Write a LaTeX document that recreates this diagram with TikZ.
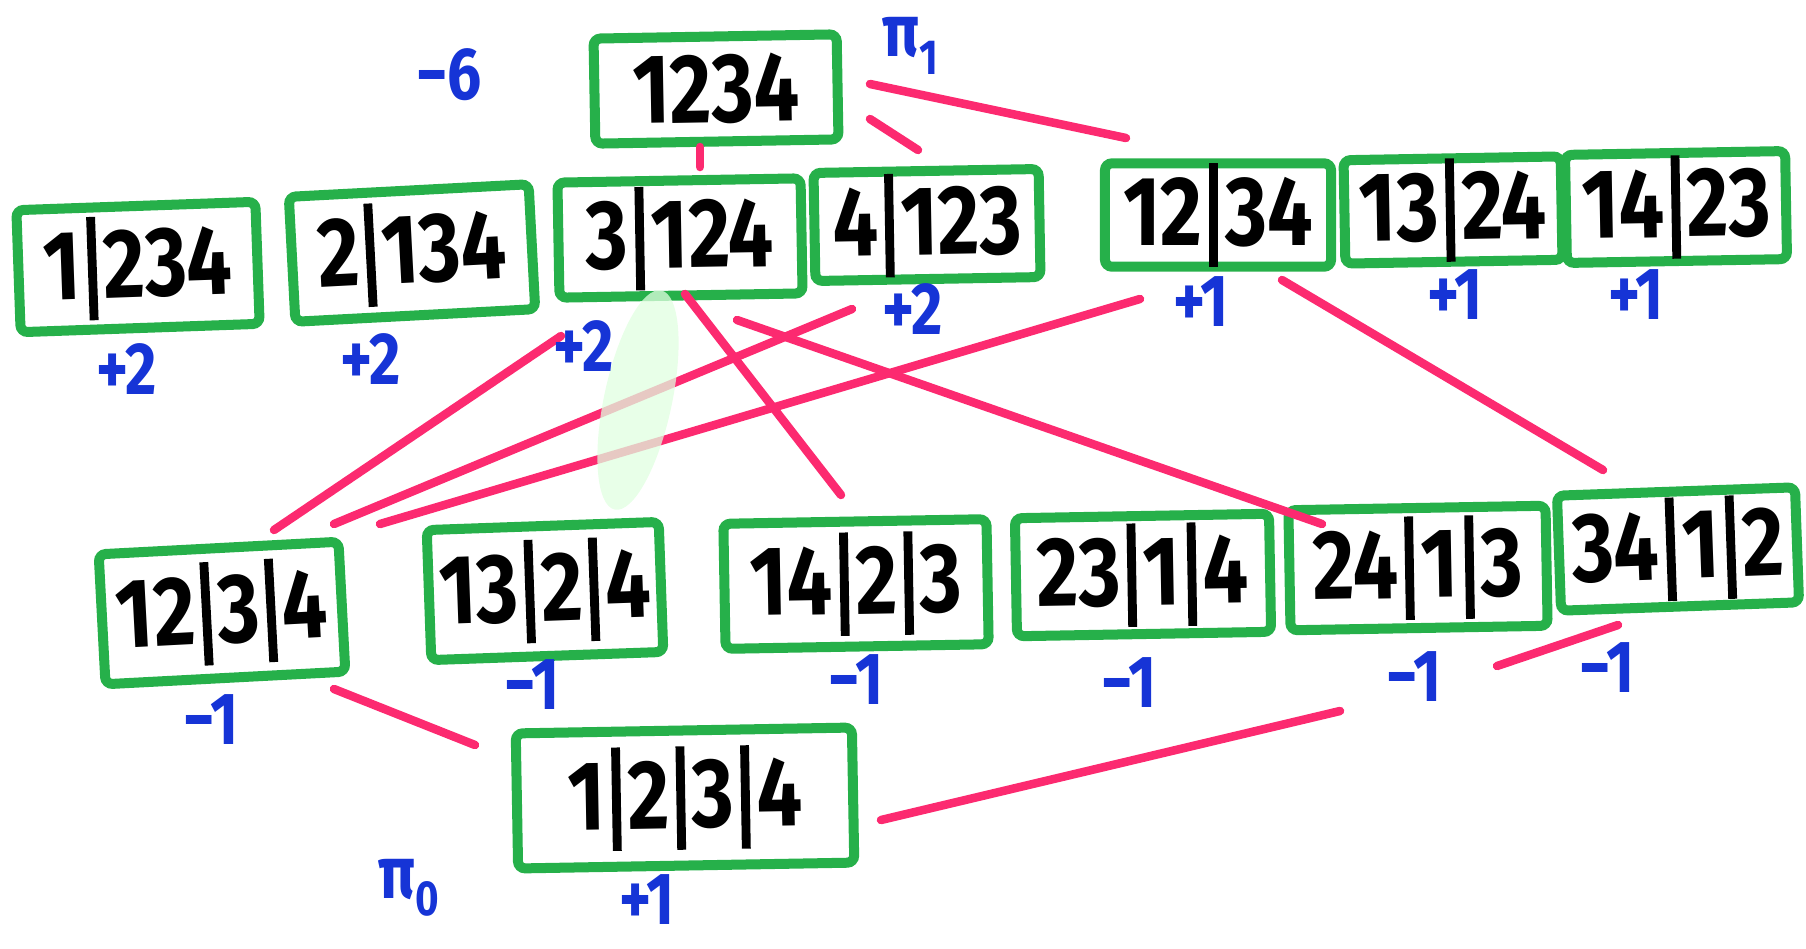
\documentclass[tikz,border=0pt]{standalone}
\usepackage{fontspec}
\usepackage{xcolor}
\usepackage{tikz}
\usetikzlibrary{positioning}
\newfontfamily\hand[FakeStretch=0.82]{Fira Sans}
\definecolor{penGreen}{RGB}{38,176,74}
\definecolor{penPink}{RGB}{252,42,112}
\definecolor{penBlue}{RGB}{22,52,214}
\newcommand{\bk}{\hspace{0.07em}\rule[-0.22em]{0.09em}{1.05em}\hspace{0.07em}}

\begin{document}
\begin{tikzpicture}[x=0.01cm, y=-0.01cm,
  part/.style={draw=penGreen, line width=0.1cm, rounded corners=2pt, inner sep=0pt, fill=white, font=\hand\bfseries\fontsize{28}{30}\selectfont},
  mob/.style={text=penBlue, inner sep=0pt, font=\hand\bfseries\fontsize{21}{22}\selectfont},
  edge/.style={draw=penPink, line width=0.085cm, line cap=round},
  smudge/.style={fill=green!12!white, opacity=0.75}
]
\useasboundingbox (0,0) rectangle (1806,948);

% top
\node[part, minimum width=2.43cm, minimum height=1.05cm, rotate=1] (p1234) at (716,89) {1234};

% two blocks
\node[part, minimum width=2.39cm, minimum height=1.22cm, rotate=2] (p1x234) at (138,267) {1\bk 234};
\node[part, minimum width=2.40cm, minimum height=1.25cm, rotate=3] (p2x134) at (412,253) {2\bk 134};
\node[part, minimum width=2.43cm, minimum height=1.15cm, rotate=1] (p3x124) at (680,238) {3\bk 124};
\node[part, minimum width=2.25cm, minimum height=1.08cm, rotate=1] (p4x123) at (927,225) {4\bk 123};
\node[part, minimum width=2.26cm, minimum height=1.00cm] (p12x34) at (1218,215) {12\bk 34};
\node[part, minimum width=2.17cm, minimum height=1.00cm, rotate=1] (p13x24) at (1453,210) {13\bk 24};
\node[part, minimum width=2.20cm, minimum height=1.08cm, rotate=1] (p14x23) at (1676,207) {14\bk 23};

% three blocks
\node[part, minimum width=2.40cm, minimum height=1.30cm, rotate=3] (p12x3x4) at (222,613) {12\bk 3\bk 4};
\node[part, minimum width=2.32cm, minimum height=1.30cm, rotate=2] (p13x2x4) at (545,591) {13\bk 2\bk 4};
\node[part, minimum width=2.63cm, minimum height=1.25cm, rotate=1] (p14x2x3) at (856,584) {14\bk 2\bk 3};
\node[part, minimum width=2.54cm, minimum height=1.18cm, rotate=1] (p23x1x4) at (1143,575) {23\bk 1\bk 4};
\node[part, minimum width=2.57cm, minimum height=1.20cm, rotate=1] (p24x1x3) at (1418,568) {24\bk 1\bk 3};
\node[part, minimum width=2.38cm, minimum height=1.15cm, rotate=2] (p34x1x2) at (1678,549) {34\bk 1\bk 2};

% bottom
\node[part, minimum width=3.36cm, minimum height=1.35cm, rotate=1] (p1x2x3x4) at (685,798) {1\bk 2\bk 3\bk 4};

% line ends
\coordinate (a1) at (870,84);   \coordinate (b1) at (1126,138);
\coordinate (a2) at (870,119);  \coordinate (b2) at (918,150);
\coordinate (a3) at (700,147);  \coordinate (b3) at (700,167);
\coordinate (a4) at (274,530);  \coordinate (b4) at (561,336);
\coordinate (a5) at (334,524);  \coordinate (b5) at (852,309);
\coordinate (a6) at (380,524);  \coordinate (b6) at (1140,299);
\coordinate (a7) at (685,294);  \coordinate (b7) at (841,495);
\coordinate (a8) at (737,320);  \coordinate (b8) at (1322,524);
\coordinate (a9) at (1282,280); \coordinate (b9) at (1603,470);
\coordinate (a10) at (334,689); \coordinate (b10) at (475,745);
\coordinate (a11) at (881,820); \coordinate (b11) at (1340,711);
\coordinate (a12) at (1497,666); \coordinate (b12) at (1618,625);

\foreach \i in {1,...,12}
  \draw[edge] (a\i) -- (b\i);

% white-out blot
\fill[smudge, rotate around={-12:(638,400)}] (638,400) ellipse (34 and 112);

% moebius values
\node[mob] (m1234) at (449,75) {−6};
\node[mob] (pi1) at (910,46) {π{\fontsize{14}{14}\selectfont\raisebox{-0.35em}{1}}};
\node[mob] (m1x234) at (127,369) {+2};
\node[mob] (m2x134) at (371,359) {+2};
\node[mob] (m3x124) at (584,346) {+2};
\node[mob] (m4x123) at (913,309) {+2};
\node[mob] (m12x34) at (1201,302) {+1};
\node[mob] (m13x24) at (1455,295) {+1};
\node[mob] (m14x23) at (1636,295) {+1};
\node[mob] (m12x3x4) at (211,720) {−1};
\node[mob] (m13x2x4) at (532,685) {−1};
\node[mob] (m14x2x3) at (856,680) {−1};
\node[mob] (m23x1x4) at (1129,683) {−1};
\node[mob] (m24x1x3) at (1414,677) {−1};
\node[mob] (m34x1x2) at (1607,668) {−1};
\node[mob] (pi0) at (409,888) {π{\fontsize{14}{14}\selectfont\raisebox{-0.35em}{0}}};
\node[mob] (m1x2x3x4) at (647,900) {+1};
\end{tikzpicture}
\end{document}
